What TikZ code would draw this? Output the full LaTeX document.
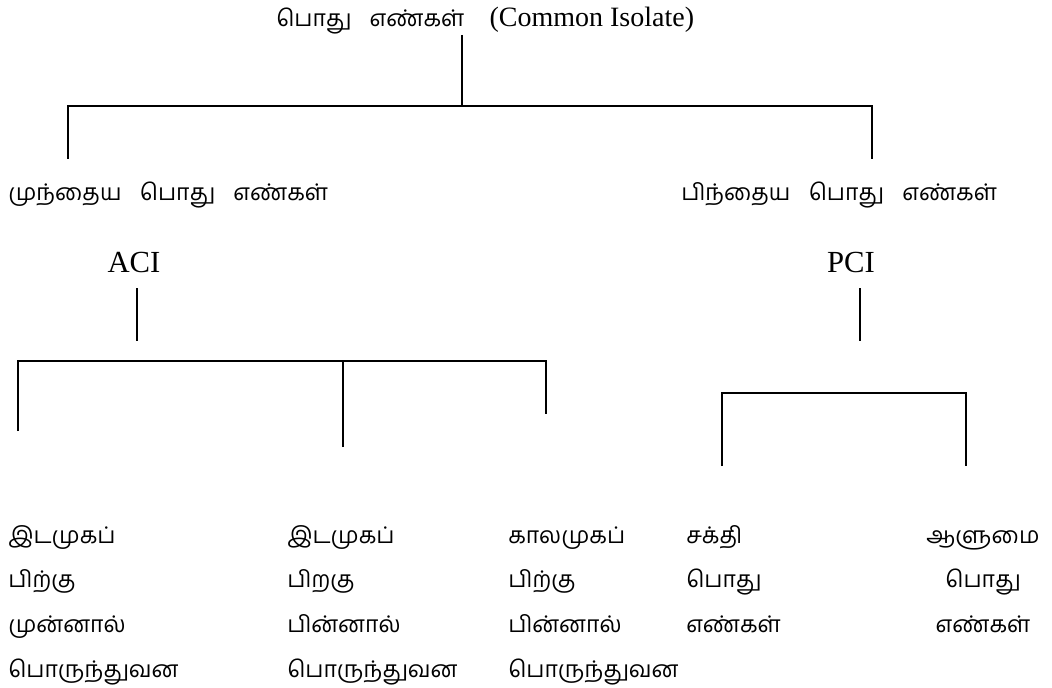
\documentclass[tikz,border=0pt]{standalone}
\usepackage{fontspec}
\setmainfont{Liberation Serif}
\newfontfamily\tamil[Script=Tamil]{Hind Madurai}
\newcommand{\tgap}{\hspace{0.8em}}

\tikzset{
  tam/.style={font=\tamil\fontsize{17.2}{33.4}\selectfont,inner sep=0pt},
  lat/.style={font=\fontsize{23}{27}\selectfont,inner sep=0pt},
  br/.style={line width=1.3pt}
}

\begin{document}
\begin{tikzpicture}[x=0.75pt,y=-0.75pt]
\useasboundingbox (0,0) rectangle (1052,688);
% root
\node[lat,font=\fontsize{21}{25}\selectfont,anchor=base west] (root) at (276,27)
  {{\tamil\fontsize{17.2}{20}\selectfont பொது\tgap எண்கள்}\hspace{0.9em}(Common Isolate)};
% second level
\node[tam,anchor=base west] (acs) at (8,200) {முந்தைய\tgap பொது\tgap எண்கள்};
\node[tam,anchor=base west] (pcs) at (681,200) {பிந்தைய\tgap பொது\tgap எண்கள்};
\node[lat,anchor=base] (aci) at (134,272) {ACI};
\node[lat,anchor=base] (pci) at (851,272) {PCI};
% leaves (anchored on the last line)
\node[tam,anchor=base west,align=left] (idam1) at (8,677)
  {இடமுகப்\\பிற்கு\\முன்னால்\\பொருந்துவன};
\node[tam,anchor=base west,align=left] (idam2) at (287,677)
  {இடமுகப்\\பிறகு\\பின்னால்\\பொருந்துவன};
\node[tam,anchor=base west,align=left] (kaalam) at (508,677)
  {காலமுகப்\\பிற்கு\\பின்னால்\\பொருந்துவன};
\node[tam,anchor=base west,align=left] (sakthi) at (686,632.5)
  {சக்தி\\பொது\\எண்கள்};
\node[tam,anchor=base,align=center] (aalumai) at (983,632.5)
  {ஆளுமை\\பொது\\எண்கள்};

% junctions
\coordinate (j0) at (462,106);
\coordinate (jacs) at (68,159);
\coordinate (jpcs) at (872,159);
\coordinate (ja) at (137,361);
\coordinate (jp) at (860,393);
\coordinate (la1) at (18,431);
\coordinate (la2) at (343,447);
\coordinate (la3) at (546,414);
\coordinate (lp1) at (722,466);
\coordinate (lp2) at (966,466);

% connectors
\draw[br] (j0 |- root.south) -- (j0);
\draw[br] (jacs) |- (j0) -| (jpcs);
\draw[br] ([yshift=-12pt]aci.base -| ja) -- ++(0,53);
\draw[br] (la1) |- (ja) -| (la3);
\draw[br] (la2) -- (la2 |- ja);
\draw[br] ([yshift=-12pt]pci.base -| jp) -- ++(0,53);
\draw[br] (lp1) |- (jp) -| (lp2);
\end{tikzpicture}
\end{document}
